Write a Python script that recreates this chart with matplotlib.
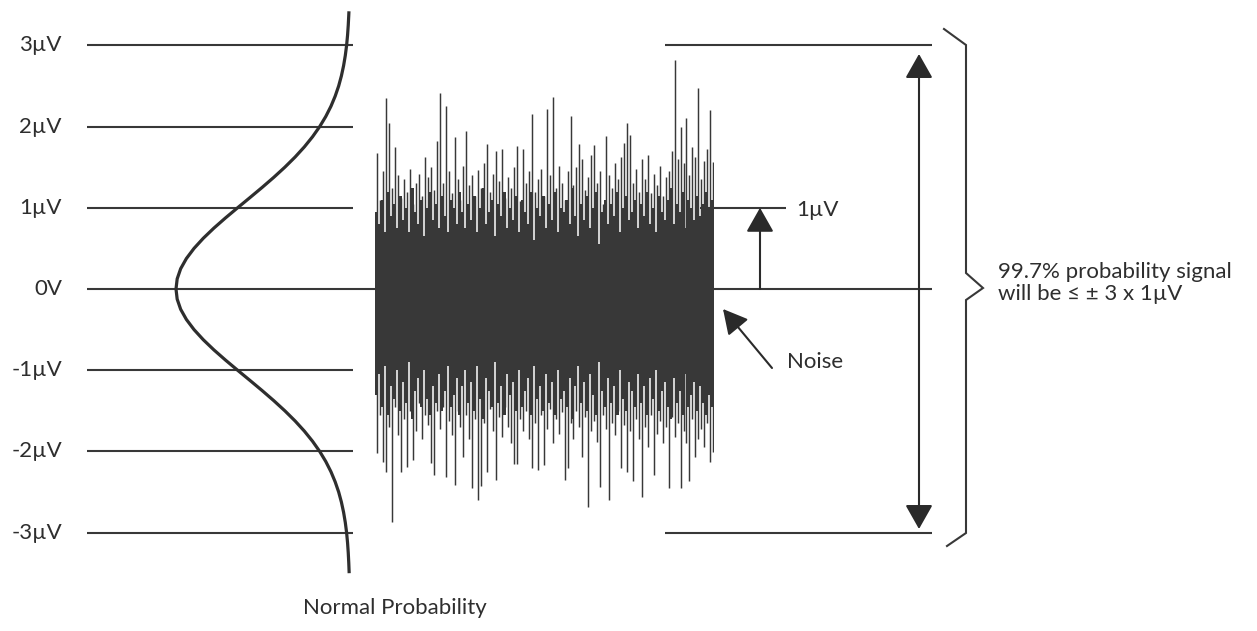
import matplotlib
matplotlib.use("Agg")
import matplotlib.pyplot as plt
from matplotlib.patches import FancyArrowPatch, ArrowStyle
import numpy as np

plt.rcParams['font.family'] = ['Lato', 'DejaVu Sans']

# ---- data ----
levels = [3, 2, 1, 0, -1, -2, -3]
level_labels = ['3µV', '2µV', '1µV', '0V', '-1µV', '-2µV', '-3µV']

# normal curve: signal level (µV) vs probability density
curve_y = [-3.5, -3.375, -3.25, -3.125, -3.0, -2.875, -2.75, -2.625, -2.5, -2.375,
           -2.25, -2.125, -2.0, -1.875, -1.75, -1.625, -1.5, -1.375, -1.25, -1.125,
           -1.0, -0.875, -0.75, -0.625, -0.5, -0.375, -0.25, -0.125, 0.0,
           0.125, 0.25, 0.375, 0.5, 0.625, 0.75, 0.875, 1.0, 1.125, 1.25, 1.375,
           1.5, 1.625, 1.75, 1.875, 2.0, 2.125, 2.25, 2.375, 2.5, 2.625, 2.75,
           2.875, 3.0, 3.125, 3.25, 3.375, 3.42]
curve_p = [0.0019, 0.0028, 0.0040, 0.0056, 0.0078, 0.0108, 0.0147, 0.0197, 0.0260, 0.0340,
           0.0437, 0.0555, 0.0695, 0.0859, 0.1047, 0.1259, 0.1494, 0.1748, 0.2017, 0.2296,
           0.2578, 0.2856, 0.3121, 0.3364, 0.3577, 0.3752, 0.3883, 0.3963, 0.3990,
           0.3963, 0.3883, 0.3752, 0.3577, 0.3364, 0.3121, 0.2856, 0.2578, 0.2296, 0.2017,
           0.1748, 0.1494, 0.1259, 0.1047, 0.0859, 0.0695, 0.0555, 0.0437, 0.0340, 0.0260,
           0.0197, 0.0147, 0.0108, 0.0078, 0.0056, 0.0040, 0.0028, 0.0024]

# noise: peak excursions (thin spikes) per sample slot (µV)
noise_hi = [1.67, 1.10, 1.45, 2.35, 2.04, 1.25, 1.75, 1.40, 1.12, 1.35, 1.20, 1.48, 1.05, 1.30,
            1.42, 1.15, 1.63, 1.38, 1.50, 1.22, 1.82, 2.41, 1.30, 2.25, 1.45, 1.18, 1.87, 1.35,
            1.10, 1.52, 1.95, 1.28, 1.40, 1.15, 1.47, 1.25, 1.55, 1.78, 1.20, 1.42, 1.70, 1.33,
            1.72, 1.12, 1.38, 1.25, 1.50, 1.76, 1.08, 1.73, 1.30, 1.45, 2.15, 1.20, 1.35, 1.48,
            1.15, 2.22, 1.40, 2.37, 1.25, 1.52, 1.30, 1.10, 1.45, 2.13, 1.28, 1.50, 1.78, 1.60,
            1.22, 1.38, 1.65, 1.77, 1.30, 1.45, 1.05, 1.88, 1.40, 1.25, 1.55, 1.35, 1.62, 1.80,
            2.04, 1.90, 1.30, 1.48, 1.20, 1.60, 1.35, 1.65, 1.18, 1.42, 1.28, 1.51, 1.15, 1.38,
            1.45, 1.70, 2.82, 1.60, 1.99, 1.55, 2.10, 1.40, 1.75, 1.62, 2.47, 1.35, 1.58, 1.72,
            2.20, 1.56]
noise_lo = [-2.02, -1.55, -2.13, -2.25, -1.70, -2.87, -1.45, -1.80, -2.25, -1.60, -2.19, -1.50,
            -2.10, -1.75, -1.40, -1.85, -1.55, -1.68, -2.14, -2.29, -1.50, -1.72, -1.45, -2.31,
            -1.62, -1.80, -2.41, -1.50, -1.70, -2.07, -1.55, -1.85, -2.45, -1.60, -2.60, -2.43,
            -1.65, -2.25, -1.48, -1.75, -2.35, -1.58, -1.82, -1.45, -1.70, -1.90, -2.15, -2.15,
            -1.60, -1.75, -1.50, -1.85, -2.21, -1.65, -2.23, -1.55, -2.17, -1.72, -1.48, -1.90,
            -1.60, -1.78, -1.52, -2.35, -2.21, -1.65, -1.85, -1.50, -1.70, -2.07, -1.58, -2.69,
            -1.75, -1.62, -1.88, -2.44, -1.55, -1.72, -2.60, -1.65, -1.80, -1.50, -2.21, -1.68,
            -2.25, -1.75, -2.37, -1.60, -1.85, -2.56, -1.70, -1.95, -1.55, -2.29, -1.78, -1.62,
            -1.90, -1.70, -2.45, -1.58, -1.82, -1.65, -2.45, -1.75, -1.90, -2.37, -1.60, -2.07,
            -1.85, -1.72, -1.95, -1.65, -2.13, -2.01]

# noise: extent of the dense body per sample slot (µV)
body_hi = [0.95, 0.80, 1.10, 0.70, 1.20, 0.90, 1.05, 0.75, 1.15, 0.85, 1.00, 0.70, 1.25, 0.95, 0.80,
           1.10, 0.65, 1.00, 1.20, 0.85, 1.05, 0.75, 1.15, 0.90, 0.70, 1.10, 1.00, 0.80, 1.20, 0.95,
           0.75, 1.05, 0.85, 1.15, 0.70, 1.00, 1.25, 0.80, 0.95, 1.10, 0.65, 1.05, 0.90, 1.20, 0.75,
           1.00, 0.85, 1.15, 0.70, 1.10, 0.95, 0.80, 1.20, 0.60, 1.00, 0.90, 1.15, 0.75, 1.05, 0.85,
           1.20, 0.70, 1.00, 0.95, 1.10, 0.80, 1.25, 0.90, 0.65, 1.05, 0.85, 1.15, 0.75, 1.00, 1.20,
           0.55, 0.95, 1.10, 0.80, 1.05, 0.90, 1.20, 0.70, 1.00, 1.15, 0.85, 0.95, 1.10, 0.75, 1.05,
           0.90, 1.20, 0.80, 1.00, 0.70, 1.15, 0.95, 0.85, 1.10, 1.25, 0.80, 1.05, 0.95, 1.20, 0.75,
           1.10, 1.00, 0.85, 1.15, 0.90, 1.05, 1.20, 1.00, 1.10]
body_lo = [-1.30, -1.05, -1.45, -0.95, -1.55, -1.20, -1.35, -1.00, -1.50, -1.15, -1.40, -0.90,
           -1.60, -1.25, -1.10, -1.45, -1.00, -1.35, -1.55, -1.20, -1.40, -1.05, -1.50, -1.25,
           -0.95, -1.45, -1.30, -1.10, -1.55, -1.20, -1.00, -1.40, -1.15, -1.50, -0.95, -1.35,
           -1.60, -1.10, -1.25, -1.45, -0.90, -1.40, -1.20, -1.55, -1.05, -1.30, -1.15, -1.50,
           -1.00, -1.45, -1.25, -1.10, -1.55, -0.95, -1.35, -1.20, -1.50, -1.05, -1.40, -1.15,
           -1.55, -1.00, -1.35, -1.25, -1.45, -1.10, -1.60, -1.20, -0.95, -1.40, -1.15, -1.50,
           -1.05, -1.30, -1.55, -0.90, -1.25, -1.45, -1.10, -1.40, -1.20, -1.55, -1.00, -1.35,
           -1.50, -1.15, -1.25, -1.45, -1.05, -1.40, -1.20, -1.55, -1.10, -1.35, -1.00, -1.50,
           -1.25, -1.15, -1.45, -1.60, -1.10, -1.40, -1.25, -1.55, -1.05, -1.45, -1.30, -1.15,
           -1.50, -1.20, -1.40, -1.55, -1.30, -1.45]

# ---- layout (pixels) ----
W, H = 1257, 631
PX = 81.2          # pixels per µV
Y0 = 289           # pixel row of 0V
y_top = Y0 / PX
y_bot = (Y0 - H) / PX
ink = '#383838'
txt = '#2e2e2e'

fig = plt.figure(figsize=(W / 100, H / 100), dpi=100)
ax = fig.add_axes([0, 0, 1, 1])
ax.set_xlim(0, W)
ax.set_ylim(y_bot, y_top)
ax.axis('off')

# level lines and labels
for lv, lab in zip(levels, level_labels):
    x1 = 932 if lv == 0 else 353
    ax.hlines(lv, 87, x1, color=ink, lw=1.5, zorder=1)
    ax.text(62, lv, lab, ha='right', va='center', fontsize=16, color=txt)
ax.hlines([3, -3], 665, 932, color=ink, lw=1.5, zorder=1)
ax.hlines(1, 700, 786, color=ink, lw=1.5, zorder=1)

# normal probability curve
cax = fig.add_axes([176 / W, 0, (350 - 176) / W, 1])
cax.set_xlim(max(curve_p), 0)
cax.set_ylim(y_bot, y_top)
cax.axis('off')
cax.plot(curve_p, curve_y, color='#2e2e2e', lw=2.3, clip_on=False,
         solid_capstyle='butt')

# noise block
n = len(noise_hi)
idx = np.arange(n)
nax = fig.add_axes([375 / W, 0, 339 / W, 1])
nax.set_xlim(-0.5, n - 0.5)
nax.set_ylim(y_bot, y_top)
nax.axis('off')
bh = np.array(body_hi)
bl = np.array(body_lo)
nax.bar(idx, bh - bl, bottom=bl, width=1.0, color=ink, lw=0, zorder=2)
nax.vlines(idx + 0.25, noise_lo, noise_hi, color=ink, lw=1.05, zorder=3)

# arrows
def arrow(p0, p1, style):
    a = FancyArrowPatch(p0, p1, arrowstyle=style, mutation_scale=1,
                        color='#2a2a2a', lw=1.5, shrinkA=0, shrinkB=0, zorder=5)
    ax.add_patch(a)

arrow((760, 0), (760, 1), ArrowStyle('-|>', head_length=15, head_width=8.5))
arrow((919, (Y0 - 529) / PX), (919, (Y0 - 54) / PX),
      ArrowStyle('<|-|>', head_length=15, head_width=8.5))
arrow((772, (Y0 - 368) / PX), (723, (Y0 - 309) / PX),
      ArrowStyle('-|>', head_length=15, head_width=8))

ax.text(796, (Y0 - 210) / PX, '1µV', ha='left', va='center', fontsize=16, color=txt)
ax.text(787, (Y0 - 362) / PX, 'Noise', ha='left', va='center', fontsize=16, color=txt)
ax.text(395, (Y0 - 608) / PX, 'Normal Probability', ha='center', va='center',
        fontsize=16, color=txt)

# brace
bx = [944, 966, 966, 983, 966, 966, 947]
by = [(Y0 - p) / PX for p in [29, 45, 273, 288, 300, 533, 546]]
ax.plot(bx, by, color=ink, lw=1.5, solid_joinstyle='miter')
ax.text(998, (Y0 - 283) / PX, '99.7% probability signal\nwill be ≤ ± 3 x 1µV',
        ha='left', va='center', fontsize=16, color=txt, linespacing=1.1)

fig.savefig('out.png', dpi=100)
